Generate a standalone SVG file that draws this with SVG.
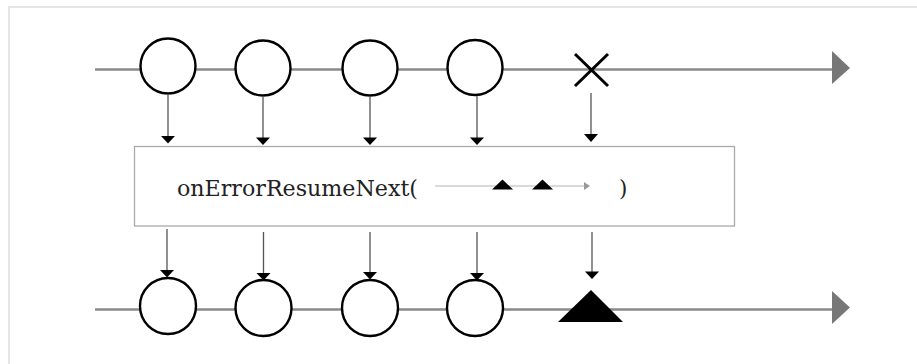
<svg xmlns="http://www.w3.org/2000/svg" width="917" height="364" viewBox="0 0 917 364">
<defs>
<style>
.tl{stroke:#8a8a8a;stroke-width:2.5;fill:none}
.tlh{fill:#777}
.mb{fill:#fff;stroke:#000;stroke-width:2.4}
.cn{stroke:#555;stroke-width:1.3;fill:none}
.ah{fill:#000}
.lbl{font-family:"DejaVu Serif","Liberation Serif",serif;font-size:21.5px;fill:#222}
</style>
</defs>
<rect x="9" y="7" width="930" height="400" fill="#fff" stroke="#e6e6e6" stroke-width="2"/>
<g id="source-timeline">
<line class="tl" x1="95" y1="69.5" x2="833" y2="69.5"/>
<polygon class="tlh" points="832,51 850,68 832,84"/>
</g>
<g id="result-timeline">
<line class="tl" x1="95" y1="309.5" x2="833" y2="309.5"/>
<polygon class="tlh" points="832,291 850,307.5 832,324"/>
</g>
<g id="src1"><circle class="mb" cx="168" cy="66" r="27.5"/></g>
<g id="src2"><circle class="mb" cx="263" cy="68" r="27.5"/></g>
<g id="src3"><circle class="mb" cx="370" cy="68" r="27.5"/></g>
<g id="src4"><circle class="mb" cx="475" cy="67.5" r="27.5"/></g>
<g id="src-error"><path d="M575,54 L608,86 M608,54 L575,86" stroke="#000" stroke-width="3" fill="none"/></g>
<g id="operator">
<rect x="134.5" y="146.5" width="600" height="79.5" fill="#fff" stroke="#aaa" stroke-width="1.3"/>
<text class="lbl" x="177" y="196" textLength="241" lengthAdjust="spacingAndGlyphs">onErrorResumeNext(</text>
<line x1="435" y1="186" x2="585" y2="186" stroke="#ccc" stroke-width="1.3"/>
<polygon points="492,189.5 502.5,179.5 513,189.5" fill="#000"/>
<polygon points="532,189.5 542.5,179.5 553,189.5" fill="#000"/>
<polygon points="584,182 590,186 584,190" fill="#999"/>
<text class="lbl" x="619" y="196">)</text>
</g>
<g id="res1"><circle class="mb" cx="168" cy="306" r="28"/></g>
<g id="res2"><circle class="mb" cx="263.5" cy="308" r="28"/></g>
<g id="res3"><circle class="mb" cx="370" cy="308" r="28"/></g>
<g id="res4"><circle class="mb" cx="475" cy="308" r="28"/></g>
<g id="res-triangle"><polygon points="591,290 623,322 558,322" fill="#000"/></g>
<g id="connectors">
<line class="cn" x1="168" y1="94" x2="168" y2="137"/>
<polygon class="ah" points="161,136 175,136 168,143.5"/>
<line class="cn" x1="263" y1="96" x2="263" y2="138"/>
<polygon class="ah" points="256,137.5 270,137.5 263,145"/>
<line class="cn" x1="370" y1="96" x2="370" y2="138"/>
<polygon class="ah" points="363,137.5 377,137.5 370,145"/>
<line class="cn" x1="477" y1="96" x2="477" y2="138"/>
<polygon class="ah" points="470,137.5 484,137.5 477,145"/>
<line class="cn" x1="591" y1="93" x2="591" y2="135"/>
<polygon class="ah" points="584,134 598,134 591,142"/>
<line class="cn" x1="167" y1="229" x2="167" y2="271"/>
<polygon class="ah" points="160,270 174,270 167,277.5"/>
<line class="cn" x1="263.5" y1="232" x2="263.5" y2="274"/>
<polygon class="ah" points="256.5,273 270.5,273 263.5,280.5"/>
<line class="cn" x1="370" y1="232" x2="370" y2="273"/>
<polygon class="ah" points="363,272 377,272 370,279.5"/>
<line class="cn" x1="477" y1="232" x2="477" y2="274"/>
<polygon class="ah" points="470,273 484,273 477,280.5"/>
<line class="cn" x1="592" y1="232" x2="592" y2="272"/>
<polygon class="ah" points="585,271.5 599,271.5 592,279"/>
</g>
</svg>
